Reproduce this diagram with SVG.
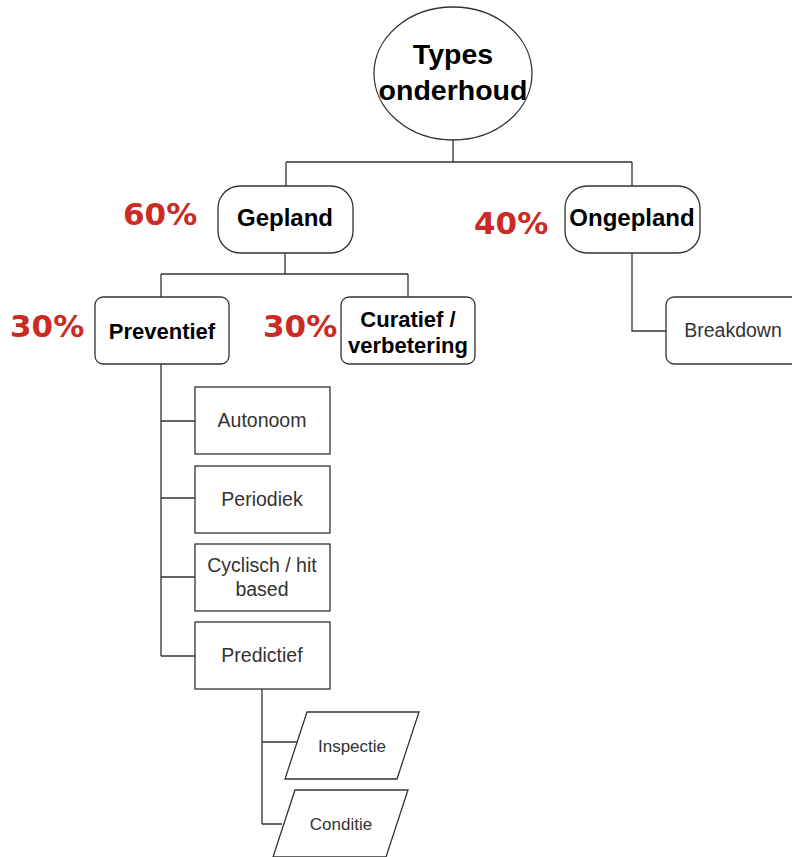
<svg xmlns="http://www.w3.org/2000/svg" width="792" height="857" viewBox="0 0 792 857">
  <style>
    .shape { fill: #ffffff; stroke: #333333; stroke-width: 1.3; }
    .wire { fill: none; stroke: #333333; stroke-width: 1.3; }
    .bold { font-family: "Liberation Sans", Arial, sans-serif; font-weight: bold; fill: #000000; text-anchor: middle; }
    .plain { font-family: "Liberation Sans", Arial, sans-serif; fill: #333333; text-anchor: middle; font-size: 19.5px; }
    .small { font-family: "Liberation Sans", Arial, sans-serif; fill: #333333; text-anchor: middle; font-size: 17px; }
    .pct { font-family: "DejaVu Sans", Verdana, sans-serif; font-weight: bold; fill: #cc2a24; font-size: 31px; }
  </style>

  <!-- connectors -->
  <g id="connectors">
    <path class="wire" d="M453 140 V162 M286 162 H632 M286 162 V186 M632 162 V186"/>
    <path class="wire" d="M285 253 V274 M161 274 H408 M161 274 V297 M408 274 V297"/>
    <path class="wire" d="M632 253 V331 H666"/>
    <path class="wire" d="M161 364 V656 M161 421 H195 M161 498 H195 M161 577 H195 M161 656 H195"/>
    <path class="wire" d="M262 689 V824 M262 742 H297 M262 824 H282"/>
  </g>

  <!-- root -->
  <g id="root">
    <ellipse class="shape" cx="453" cy="73.5" rx="79" ry="66.5"/>
    <text class="bold" x="453" y="64" font-size="28.5">Types</text>
    <text class="bold" x="453" y="100" font-size="28.5">onderhoud</text>
  </g>

  <g id="gepland">
    <rect class="shape" x="218" y="186" width="135" height="67" rx="22"/>
    <text class="bold" x="285" y="226" font-size="24">Gepland</text>
  </g>
  <text class="pct" x="123" y="225">60%</text>

  <g id="ongepland">
    <rect class="shape" x="565" y="186" width="135" height="67" rx="22"/>
    <text class="bold" x="632" y="226" font-size="24">Ongepland</text>
  </g>
  <text class="pct" x="474" y="234">40%</text>

  <g id="preventief">
    <rect class="shape" x="95" y="297" width="134" height="67" rx="8"/>
    <text class="bold" x="162" y="339" font-size="22">Preventief</text>
  </g>
  <text class="pct" x="10" y="337">30%</text>

  <g id="curatief">
    <rect class="shape" x="341" y="297" width="134" height="67" rx="8"/>
    <text class="bold" x="408" y="327" font-size="22">Curatief /</text>
    <text class="bold" x="408" y="353" font-size="22">verbetering</text>
  </g>
  <text class="pct" x="263" y="337">30%</text>

  <g id="breakdown">
    <rect class="shape" x="666" y="297" width="134" height="67" rx="8"/>
    <text class="plain" x="733" y="337">Breakdown</text>
  </g>

  <g id="autonoom">
    <rect class="shape" x="195" y="387" width="135" height="67"/>
    <text class="plain" x="262" y="427">Autonoom</text>
  </g>

  <g id="periodiek">
    <rect class="shape" x="195" y="466" width="135" height="67"/>
    <text class="plain" x="262" y="506">Periodiek</text>
  </g>

  <g id="cyclisch">
    <rect class="shape" x="195" y="544" width="135" height="67"/>
    <text class="plain" x="262" y="572">Cyclisch / hit</text>
    <text class="plain" x="262" y="596">based</text>
  </g>

  <g id="predictief">
    <rect class="shape" x="195" y="622" width="135" height="67"/>
    <text class="plain" x="262" y="662">Predictief</text>
  </g>

  <g id="inspectie">
    <polygon class="shape" points="307,712 419,712 397,779 285,779"/>
    <text class="small" x="352" y="752">Inspectie</text>
  </g>

  <g id="conditie">
    <polygon class="shape" points="295,790 408,790 386,857 273,857"/>
    <text class="small" x="341" y="830">Conditie</text>
  </g>
</svg>
